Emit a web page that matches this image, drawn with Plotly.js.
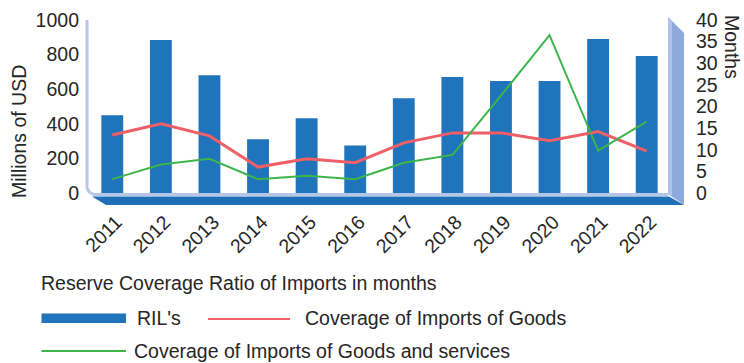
<!DOCTYPE html>
<html>
<head>
<meta charset="utf-8">
<script src="https://cdn.plot.ly/plotly-3.0.1.min.js"></script>
<style>html,body{margin:0;padding:0;background:#fff;}#chart{width:744px;height:363px;}</style>
</head>
<body>
<div id="chart"></div>
<script>
// ---- data ----
const years = ["2011","2012","2013","2014","2015","2016","2017","2018","2019","2020","2021","2022"];
const rils = [450, 885, 680, 310, 432, 275, 548, 670, 647, 647, 890, 792];
const coverageGoods = [13.4, 16.0, 13.2, 6.0, 7.9, 7.0, 11.6, 13.9, 13.9, 12.1, 14.2, 9.7];
const coverageGoodsServices = [3.2, 6.6, 7.9, 3.2, 4.0, 3.2, 7.0, 8.8, 22.5, 36.5, 9.8, 16.5];
const seriesNames = ["RIL's", "Coverage of Imports of Goods", "Coverage of Imports of Goods and services"];
const legendTitle = "Reserve Coverage Ratio of Imports in months";
const leftTitle = "Millions of USD";
const rightTitle = "Months";

// ---- geometry helpers (pixel -> paper) ----
const W = 744, H = 363;
const M = {l: 88, r: 73, t: 20, b: 170};
const PW = W - M.l - M.r, PH = H - M.t - M.b;
const px = x => (x - M.l) / PW;
const py = y => (H - M.b - y) / PH;
const path = pts => pts.map((p, i) => (i ? 'L' : 'M') + px(p[0]).toFixed(5) + ',' + py(p[1]).toFixed(5)).join(' ') + ' Z';
const openPath = pts => pts.map((p, i) => (i ? 'L' : 'M') + px(p[0]).toFixed(5) + ',' + py(p[1]).toFixed(5)).join(' ');

const FONT = "Liberation Sans, Arial, sans-serif";
const FS = 19.5;
const TXT = "#262626";
const BAR = "#1f74bb";
const RED = "#ef5f67";
const GREEN = "#3cb54a";

const traces = [
  {type: 'bar', x: years, y: rils, name: seriesNames[0], marker: {color: BAR}, width: 0.45, yaxis: 'y', showlegend: false, hoverinfo: 'x+y'},
  {type: 'scatter', mode: 'lines', x: years, y: coverageGoods, name: seriesNames[1], line: {color: RED, width: 3}, yaxis: 'y2', showlegend: false},
  {type: 'scatter', mode: 'lines', x: years, y: coverageGoodsServices, name: seriesNames[2], line: {color: GREEN, width: 2}, yaxis: 'y2', showlegend: false}
];

const shapes = [
  // floor slab
  {type: 'path', xref: 'paper', yref: 'paper', path: path([[92,196.5],[669,196.5],[684,205],[106,205]]), fillcolor: '#1f6fb8', line: {width: 0}, layer: 'above'},
  // side wall
  {type: 'path', xref: 'paper', yref: 'paper', path: path([[668,17],[684,33],[684,205],[668,194]]), fillcolor: '#8eaadc', line: {width: 0}, layer: 'above'},
  {type: 'path', xref: 'paper', yref: 'paper', path: path([[668,17],[672,21],[672,196],[668,194]]), fillcolor: '#aec3e8', line: {width: 0}, layer: 'above'},
  // back wall frame
  {type: 'path', xref: 'paper', yref: 'paper', path: openPath([[87,20],[87,188],[89,192],[94,194.5],[668,194.5]]), line: {color: '#b4c7e7', width: 3}, layer: 'above'},
  // legend swatches
  {type: 'rect', xref: 'paper', yref: 'paper', x0: px(41.5), x1: px(126), y0: py(313.5), y1: py(323), fillcolor: BAR, line: {width: 0}},
  {type: 'line', xref: 'paper', yref: 'paper', x0: px(208), x1: px(290), y0: py(319), y1: py(319), line: {color: RED, width: 2}},
  {type: 'line', xref: 'paper', yref: 'paper', x0: px(41.5), x1: px(126), y0: py(351), y1: py(351), line: {color: GREEN, width: 2}}
];

const ann = (text, x, y, opts) => Object.assign({text: text, xref: 'paper', yref: 'paper', x: px(x), y: py(y), showarrow: false, font: {family: FONT, size: FS, color: TXT}, xanchor: 'left', yanchor: 'middle'}, opts || {});

const annotations = [
  ann(leftTitle, 19, 132, {textangle: -90, xanchor: 'center'}),
  ann(rightTitle, 732, 47, {textangle: 90, xanchor: 'center'}),
  ann(legendTitle, 39, 283),
  ann(seriesNames[0], 135, 318),
  ann(seriesNames[1], 303, 318),
  ann(seriesNames[2], 132, 351)
];

const layout = {
  width: W, height: H,
  margin: M,
  paper_bgcolor: '#fff', plot_bgcolor: 'rgba(0,0,0,0)',
  font: {family: FONT, size: FS, color: TXT},
  showlegend: false,
  bargap: 0.55,
  xaxis: {type: 'category', tickangle: -45, showgrid: false, zeroline: false, showline: false, ticks: '', tickfont: {size: FS, color: TXT}, ticklabelstandoff: 13, ticklabelshift: 4, range: [-0.5, 11.5]},
  yaxis: {range: [0, 1000], tickvals: [0,200,400,600,800,1000], showgrid: false, zeroline: false, showline: false, ticks: '', tickfont: {size: FS, color: TXT}, ticklabelstandoff: 8},
  yaxis2: {range: [0, 40], tickvals: [0,5,10,15,20,25,30,35,40], overlaying: 'y', side: 'right', showgrid: false, zeroline: false, showline: false, ticks: '', tickfont: {size: FS, color: TXT}, ticklabelstandoff: 24},
  shapes: shapes,
  annotations: annotations
};

Plotly.newPlot('chart', traces, layout, {staticPlot: true, displayModeBar: false});
</script>
</body>
</html>
